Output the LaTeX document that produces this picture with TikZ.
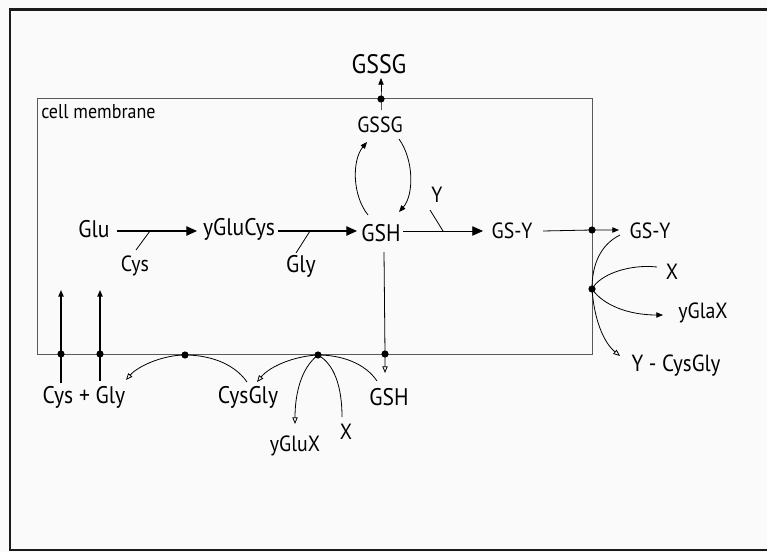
\documentclass[tikz,border=0pt]{standalone}
\usepackage{fontspec}
\setmainfont{PT Sans}[FakeStretch=0.9]
\usetikzlibrary{arrows.meta}
\definecolor{bgc}{HTML}{FAFAFA}
\definecolor{membc}{HTML}{5A5A5A}
\definecolor{framec}{HTML}{1A1A1A}
\begin{document}
\begin{tikzpicture}[x=0.75pt,y=-0.75pt,
  big/.style={inner sep=0pt,font=\fontsize{18}{20}\selectfont},
  huge/.style={inner sep=0pt,font=\fontsize{20}{22}\selectfont},
  med/.style={inner sep=0pt,font=\fontsize{16.5}{18}\selectfont},
  small/.style={inner sep=0pt,font=\fontsize{15}{17}\selectfont},
  dot/.style={circle,fill=black,inner sep=0pt,minimum size=5.4pt},
  mainline/.style={line width=0.9pt},
  thinline/.style={line width=0.6pt},
  bigtip/.style={-{Triangle[length=8pt,width=7pt]}},
  smalltip/.style={-{Triangle[length=5pt,width=4pt]}},
  opentip/.style={-{Triangle[open,length=5pt,width=4pt]}}]
\useasboundingbox (0,0) rectangle (767,552);
\clip (0,0) rectangle (767,552);
\fill[bgc] (0,0) rectangle (767,552);
\draw[framec,line width=2.2pt] (10,9.5) rectangle (790,550);
% membrane
\draw[membc,line width=0.6pt] (37,98) rectangle (592,354);
\node[small,anchor=west] (cm) at (41,112) {cell membrane};
% labels
\node[huge] (gssgout) at (379,64) {GSSG};
\node[med] (gssgin) at (380,125) {GSSG};
\node[big] (glu) at (94,229) {Glu};
\node[med] (cys) at (135,266) {Cys};
\node[big] (yglucys) at (239,229) {yGluCys};
\node[big] (gly) at (301,266) {Gly};
\node[big] (gsh) at (381,233) {GSH};
\node[med] (y) at (437,195) {Y};
\node[med] (gsy) at (512,231) {GS-Y};
\node[med] (gsyout) at (650,231) {GS-Y};
\node[med] (xr) at (672,272) {X};
\node[med] (yglax) at (703,313) {yGlaX};
\node[med,font=\fontsize{17.5}{19}\selectfont] (ycysgly) at (676,366) {Y - CysGly};
\node[big] (cysgly2) at (84,397) {Cys + Gly};
\node[big] (cysgly) at (248,397) {CysGly};
\node[big] (gshb) at (389,397) {GSH};
\node[med] (ygluxb) at (295,446) {yGluX};
\node[med] (xb) at (346,432) {X};
% dots
\node[dot] (dT) at (381,99) {};
\node[dot] (dR1) at (592,230) {};
\node[dot] (dR2) at (592,289) {};
\node[dot] (dL1) at (61,354) {};
\node[dot] (dL2) at (100,354) {};
\node[dot] (dB1) at (185,355) {};
\node[dot] (dB2) at (318,355) {};
\node[dot] (dB3) at (385,354) {};
% coordinates
\coordinate (gssgTip) at (381,78);
\coordinate (gssgInTop) at (381,110);
\coordinate (gluE) at (117,231);
\coordinate (ygcW) at (197,231);
\coordinate (cysBr1) at (150,231);
\coordinate (cysBr2) at (136,250);
\coordinate (ygcE) at (278,231);
\coordinate (gshW) at (357,231);
\coordinate (glyBr1) at (310,231);
\coordinate (glyBr2) at (296,253);
\coordinate (gshE) at (403,231);
\coordinate (gsyW) at (483,231);
\coordinate (yBr1) at (443,231);
\coordinate (yBr2) at (430,210);
\coordinate (gsyE) at (543,231);
\coordinate (gsyoutW) at (619,230);
\coordinate (gshLup) at (368,215);
\coordinate (gssgLdn) at (367,142);
\coordinate (gssgRdn) at (399,139);
\coordinate (gshRup) at (399,212);
\coordinate (gshS) at (384,252);
\coordinate (gshbTip) at (385,373);
\coordinate (gsyoutSW) at (620,235);
\coordinate (xrW) at (657,267);
\coordinate (yglaxW) at (663,315);
\coordinate (ycgTip) at (620,356);
\coordinate (L1b) at (61,383);
\coordinate (L1t) at (61,290);
\coordinate (L2b) at (100,381);
\coordinate (L2t) at (100,290);
\coordinate (cgNE) at (247,382);
\coordinate (cg2Tip) at (126,380);
\coordinate (cgTip) at (257,382);
\coordinate (ygxTip) at (295,424);
\coordinate (xbTop) at (342,417);
\coordinate (gshbNW) at (377,381);
% top GSSG export
\draw[thinline,smalltip] (gssgInTop) -- (dT.center) -- (gssgTip);
% GSH <-> GSSG
\draw[thinline,smalltip] (gshLup) .. controls (352,195) and (352,160) .. (gssgLdn);
\draw[thinline,smalltip] (gssgRdn) .. controls (414,160) and (414,195) .. (gshRup);
% main chain
\draw[mainline,bigtip] (gluE) -- (ygcW);
\draw[thinline] (cysBr1) -- (cysBr2);
\draw[mainline,bigtip] (ygcE) -- (gshW);
\draw[thinline] (glyBr1) -- (glyBr2);
\draw[thinline,bigtip] (gshE) -- (gsyW);
\draw[thinline] (yBr1) -- (yBr2);
\draw[thinline,smalltip] (gsyE) -- (dR1.center) -- (gsyoutW);
% right side
\draw[thinline] (gsyoutSW) .. controls (600,245) and (592,265) .. (dR2.center);
\draw[thinline] (xrW) .. controls (630,264) and (600,274) .. (dR2.center);
\draw[thinline,smalltip] (dR2.center) .. controls (603,305) and (628,315) .. (yglaxW);
\draw[thinline,opentip] (dR2.center) .. controls (594,318) and (603,342) .. (ycgTip);
% GSH down
\draw[thinline,opentip] (gshS) -- (dB3.center) -- (gshbTip);
% Cys + Gly uptake
\draw[mainline,smalltip] (L1b) -- (dL1.center) -- (L1t);
\draw[mainline,smalltip] (L2b) -- (dL2.center) -- (L2t);
% CysGly cleavage
\draw[thinline,opentip] (cgNE) .. controls (233,362) and (207,355) .. (dB1.center) .. controls (163,355) and (138,366) .. (cg2Tip);
% GSH + X transpeptidation
\draw[thinline,opentip] (dB2.center) .. controls (295,356) and (270,366) .. (cgTip);
\draw[thinline,opentip] (dB2.center) .. controls (301,368) and (295,394) .. (ygxTip);
\draw[thinline] (xbTop) .. controls (342,386) and (334,364) .. (dB2.center);
\draw[thinline] (gshbNW) .. controls (365,363) and (341,355) .. (dB2.center);
\end{tikzpicture}
\end{document}
